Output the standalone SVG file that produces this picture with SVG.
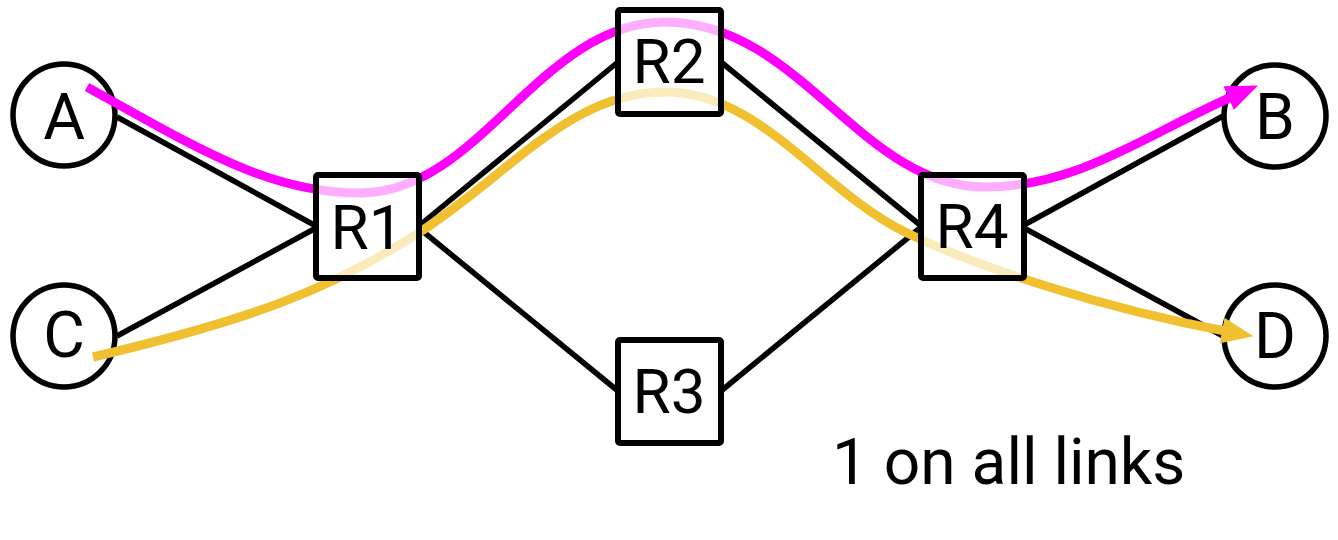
<svg xmlns="http://www.w3.org/2000/svg" width="1338" height="540" viewBox="0 0 1338 540">
<style>
.node circle{fill:#fff;stroke:#000;stroke-width:5.5}
.node rect{fill:#fff;fill-opacity:0.68;stroke:#000;stroke-width:6}
.node text{font-family:Roboto,"Liberation Sans",sans-serif;font-size:62px;text-anchor:middle;fill:#000}
.node.c text{font-size:64px}
.link{stroke:#000;stroke-width:5.5;fill:none}
.path{fill:none;stroke-width:9}
.label{font-family:Roboto,"Liberation Sans",sans-serif;font-size:64px;fill:#000}
</style>
<defs>
<marker id="am" markerUnits="userSpaceOnUse" markerWidth="34" markerHeight="28" refX="8" refY="14" orient="auto" viewBox="0 0 34 28"><path d="M0,1 L32,14 L0,27 z" fill="#ff00ff"/></marker>
<marker id="ay" markerUnits="userSpaceOnUse" markerWidth="34" markerHeight="28" refX="8" refY="14" orient="auto" viewBox="0 0 34 28"><path d="M0,1 L32,14 L0,27 z" fill="#f0c030"/></marker>
</defs>
<g id="A" class="node c"><circle cx="64" cy="115" r="51"/><text x="64" y="139">A</text></g>
<g id="C" class="node c"><circle cx="64" cy="336" r="51"/><text x="64" y="357">C</text></g>
<g id="B" class="node c"><circle cx="1275" cy="116" r="51"/><text x="1275" y="139">B</text></g>
<g id="D" class="node c"><circle cx="1275" cy="336" r="51"/><text x="1275" y="358">D</text></g>
<g id="connectors">
<line class="link" x1="117" y1="117" x2="316" y2="226"/>
<line class="link" x1="117" y1="336" x2="316" y2="228"/>
<line class="link" x1="420" y1="225" x2="618" y2="62"/>
<line class="link" x1="420" y1="229" x2="618" y2="391"/>
<line class="link" x1="721" y1="62" x2="920" y2="225"/>
<line class="link" x1="721" y1="391" x2="920" y2="228"/>
<line class="link" x1="1024" y1="225" x2="1223" y2="116"/>
<line class="link" x1="1024" y1="228" x2="1223" y2="336"/>
<path id="pathAB" class="path" stroke="#ff00ff" marker-end="url(#am)" d="M87,87 C200,150 270,193 360,193 C480,193 540,22 665,22 C800,22 860,187 985,187 C1080,187 1150,132 1236,95"/>
<path id="pathCD" class="path" stroke="#f0c030" marker-end="url(#ay)" d="M93,357 C250,320 330,290 420,232 C510,174 570,92 665,92 C760,92 820,190 905,232 C975,266 1100,308 1230,332"/>
</g>
<g id="R1" class="node"><rect x="316" y="175" width="103" height="103" rx="2"/><text x="367" y="249">R1</text></g>
<g id="R2" class="node"><rect x="618" y="10" width="103" height="104" rx="2"/><text x="669" y="83">R2</text></g>
<g id="R3" class="node"><rect x="618" y="340" width="103" height="103" rx="2"/><text x="669" y="413">R3</text></g>
<g id="R4" class="node"><rect x="921" y="175" width="103" height="103" rx="2"/><text x="972" y="248">R4</text></g>
<text class="label" x="832" y="484">1 on all links</text>
</svg>
